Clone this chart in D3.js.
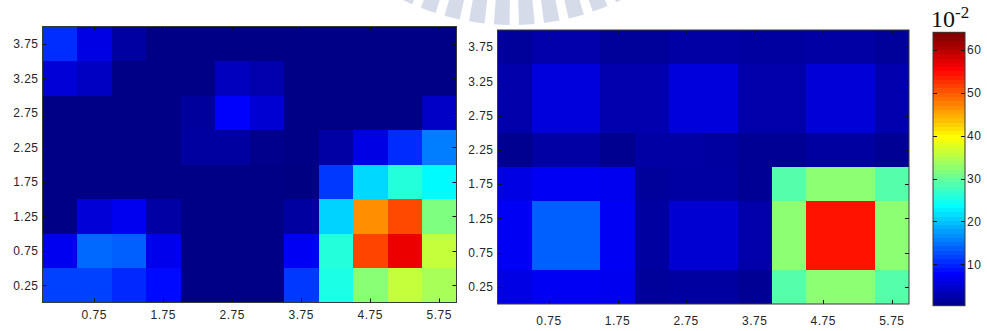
<!DOCTYPE html>
<html>
<head>
<meta charset="utf-8">
<script src="https://cdn.jsdelivr.net/npm/d3@7"></script>
<style>
  html, body { margin: 0; padding: 0; background: #fff; }
  svg { display: block; }
  .tick-label { font-family: "Liberation Sans", Arial, sans-serif; font-size: 12px; letter-spacing: 0.5px; fill: #262626; }
</style>
</head>
<body>
<svg id="chart" width="987" height="331"></svg>
<script>
// ---------------- data ----------------
const xTicks = [0.75, 1.75, 2.75, 3.75, 4.75, 5.75];
const yTicks = [0.25, 0.75, 1.25, 1.75, 2.25, 2.75, 3.25, 3.75];
const colorbarTicks = [10, 20, 30, 40, 50, 60];
const colorLimits = [0.34, 64.13];
const colorbarExponent = "-2";

// rows listed from top (y 3.5–4.0) to bottom (y 0–0.5); 12 columns of width 0.5 (x 0–6)
const leftValues = [
  [11.1, 6.7, 2.5, 0.8, 0.8, 0.8, 0.8, 0.8, 0.8, 0.8, 0.8, 0.8],
  [5.8, 4.5, 0.8, 0.8, 0.8, 4.2, 3.3, 0.8, 0.8, 0.8, 0.8, 0.8],
  [0.8, 0.8, 0.8, 0.8, 2.2, 8.2, 5.5, 0.8, 0.8, 0.8, 0.8, 4.8],
  [0.8, 0.8, 0.8, 0.8, 2.4, 2.4, 1.1, 0.8, 2.7, 6.7, 11.0, 16.2],
  [0.8, 0.8, 0.8, 0.8, 0.8, 0.8, 0.8, 0.5, 11.8, 21.8, 26.5, 24.0],
  [0.8, 5.8, 7.4, 2.7, 0.8, 0.8, 0.8, 2.4, 21.5, 47.2, 51.6, 32.2],
  [7.4, 14.9, 14.3, 7.1, 0.8, 0.8, 0.8, 7.7, 26.5, 51.9, 57.3, 36.5],
  [12.4, 12.4, 10.8, 8.9, 0.8, 0.8, 0.8, 11.8, 25.9, 32.8, 36.5, 34.7]
];
const rightValues = [
  [2.0, 3.0, 3.0, 2.0, 2.0, 2.7, 2.7, 2.4, 2.4, 2.7, 2.7, 2.0],
  [3.0, 6.1, 6.1, 3.3, 3.3, 6.1, 6.1, 3.0, 3.0, 5.8, 5.8, 3.3],
  [3.0, 6.1, 6.1, 3.3, 3.3, 6.1, 6.1, 3.0, 3.0, 5.8, 5.8, 3.3],
  [1.4, 2.7, 2.7, 1.4, 2.7, 2.7, 2.4, 1.7, 1.7, 2.4, 2.4, 1.7],
  [6.7, 7.7, 7.7, 7.4, 2.0, 2.5, 2.5, 1.7, 29.6, 33.1, 33.1, 29.6],
  [7.7, 14.3, 14.3, 7.7, 2.4, 5.5, 5.5, 3.0, 33.1, 55.0, 55.0, 33.1],
  [7.7, 14.3, 14.3, 7.7, 2.4, 5.5, 5.5, 3.0, 33.1, 55.0, 55.0, 33.1],
  [6.7, 7.7, 7.7, 7.4, 2.0, 2.4, 2.4, 1.7, 29.6, 33.1, 33.1, 29.6]
];
const cellSize = 0.5;
const xDomain = [0, 6];
const yDomain = [0, 4];

// ---------------- helpers ----------------
function clamp01(v) { return Math.max(0, Math.min(1, v)); }
function jet(t) {
  const r = clamp01(Math.min(4 * t - 1.5, -4 * t + 4.5));
  const g = clamp01(Math.min(4 * t - 0.5, -4 * t + 3.5));
  const b = clamp01(Math.min(4 * t + 0.5, -4 * t + 2.5));
  return d3.rgb(r * 255, g * 255, b * 255).toString();
}
const color = d3.scaleSequential(jet).domain(colorLimits).clamp(true);

const svg = d3.select("#chart");

// ---------------- watermark (decorative) ----------------
const wm = svg.append("g").attr("transform", "translate(512,-225)");
const wmArc = d3.arc().innerRadius(212).outerRadius(250);
const stepDeg = 5.75, widthDeg = 3.6;
for (let k = -7; k <= 5; k++) {
  const theta = (3.4 + k * stepDeg) * Math.PI / 180;
  const a = Math.PI - theta;
  const hw = widthDeg / 2 * Math.PI / 180;
  wm.append("path").attr("d", wmArc({ startAngle: a - hw, endAngle: a + hw })).attr("fill", "#d6dbe9");
}

// ---------------- panels ----------------
function drawPanel(values, box, xLabelOffset) {
  const x = d3.scaleLinear().domain(xDomain).range([box.x, box.x + box.w]);
  const y = d3.scaleLinear().domain(yDomain).range([box.y + box.h, box.y]);
  const g = svg.append("g");
  const cells = [];
  values.forEach((row, r) => row.forEach((v, c) => {
    cells.push({ x0: c * cellSize, y1: yDomain[1] - r * cellSize, v });
  }));
  g.selectAll("rect.cell").data(cells).join("rect")
    .attr("class", "cell")
    .attr("shape-rendering", "crispEdges")
    .attr("x", d => x(d.x0))
    .attr("y", d => y(d.y1))
    .attr("width", d => Math.min(x(d.x0 + cellSize) + 0.6, box.x + box.w) - x(d.x0))
    .attr("height", d => Math.min(y(d.y1 - cellSize) + 0.6, box.y + box.h) - y(d.y1))
    .attr("fill", d => color(d.v));

  const tickLen = 4;
  const tk = g.append("g").attr("stroke", "#111").attr("stroke-width", 1);
  xTicks.forEach(t => {
    const px = Math.round(x(t)) + 0.5;
    tk.append("line").attr("x1", px).attr("x2", px).attr("y1", box.y + box.h).attr("y2", box.y + box.h - tickLen);
    tk.append("line").attr("x1", px).attr("x2", px).attr("y1", box.y).attr("y2", box.y + tickLen);
  });
  yTicks.forEach(t => {
    const py = Math.round(y(t)) + 0.5;
    tk.append("line").attr("x1", box.x).attr("x2", box.x + tickLen).attr("y1", py).attr("y2", py);
    tk.append("line").attr("x1", box.x + box.w).attr("x2", box.x + box.w - tickLen).attr("y1", py).attr("y2", py);
  });

  g.append("rect").attr("x", box.x).attr("y", box.y).attr("width", box.w).attr("height", box.h)
    .attr("fill", "none").attr("stroke", "#3a3a3a").attr("stroke-width", 1);

  g.selectAll("text.xl").data(xTicks).join("text")
    .attr("class", "tick-label xl")
    .attr("x", d => x(d)).attr("y", box.y + box.h + xLabelOffset)
    .attr("text-anchor", "middle").text(d => d.toFixed(2));
  g.selectAll("text.yl").data(yTicks).join("text")
    .attr("class", "tick-label yl")
    .attr("x", box.x - 4).attr("y", d => y(d)).attr("dy", "0.36em")
    .attr("text-anchor", "end").text(d => d.toFixed(2));
}

drawPanel(leftValues, { x: 42.5, y: 26.5, w: 414, h: 276 }, 16.5);
drawPanel(rightValues, { x: 497.5, y: 30, w: 411.5, h: 274 }, 20.5);

// ---------------- colorbar ----------------
const cb = { x: 933, y: 32.3, w: 32, h: 273.4 };
const cbScale = d3.scaleLinear().domain(colorLimits).range([cb.y + cb.h, cb.y]);
const nBands = 64;
const bands = d3.range(nBands).map(i => ({
  v0: colorLimits[0] + (colorLimits[1] - colorLimits[0]) * i / nBands,
  v1: colorLimits[0] + (colorLimits[1] - colorLimits[0]) * (i + 1) / nBands,
  t: (i + 1) / nBands
}));
const cbg = svg.append("g");
cbg.selectAll("rect.band").data(bands).join("rect")
  .attr("shape-rendering", "crispEdges")
  .attr("x", cb.x).attr("width", cb.w)
  .attr("y", d => cbScale(d.v1))
  .attr("height", d => cbScale(d.v0) - cbScale(d.v1) + 0.6)
  .attr("fill", d => jet(d.t));
colorbarTicks.forEach(t => {
  const py = Math.round(cbScale(t)) + 0.5;
  cbg.append("line").attr("x1", cb.x).attr("x2", cb.x + 4).attr("y1", py).attr("y2", py).attr("stroke", "#111");
  cbg.append("line").attr("x1", cb.x + cb.w).attr("x2", cb.x + cb.w - 4).attr("y1", py).attr("y2", py).attr("stroke", "#111");
});
cbg.append("rect").attr("x", cb.x).attr("y", cb.y).attr("width", cb.w).attr("height", cb.h)
  .attr("fill", "none").attr("stroke", "#3a3a3a");
cbg.selectAll("text.cl").data(colorbarTicks).join("text")
  .attr("class", "tick-label cl")
  .attr("x", cb.x + cb.w + 2).attr("y", d => cbScale(d)).attr("dy", "0.36em")
  .attr("text-anchor", "start").text(d => d);

const expo = svg.append("text")
  .attr("x", 931).attr("y", 26.5)
  .attr("font-family", "'Liberation Serif', 'Times New Roman', serif")
  .attr("font-size", 24).attr("fill", "#111");
expo.append("tspan").text("10");
expo.append("tspan").attr("font-size", 17).attr("dy", -8.5).text(colorbarExponent);
</script>
</body>
</html>
